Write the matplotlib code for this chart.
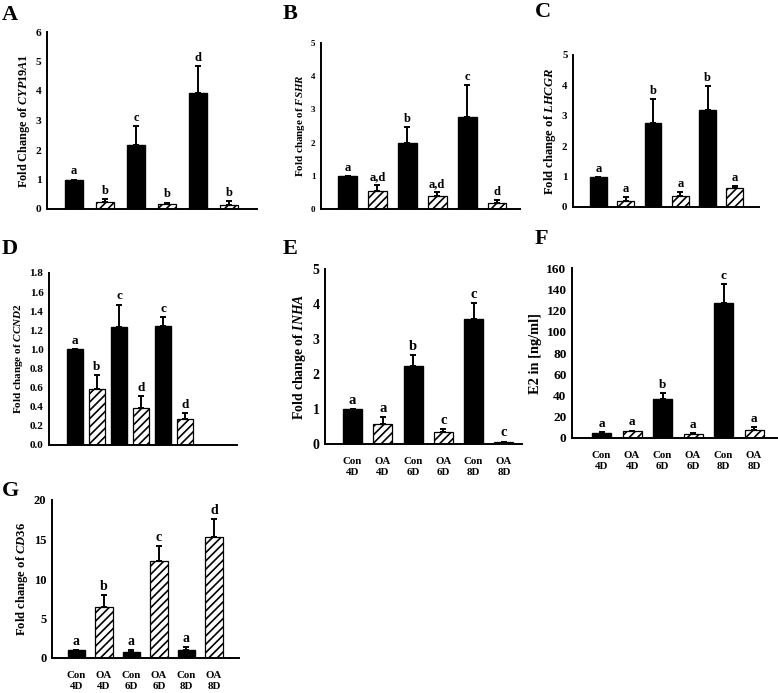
import numpy as np
import matplotlib.pyplot as plt

plt.rcParams['font.family'] = 'Liberation Serif'
plt.rcParams['font.weight'] = 'bold'
plt.rcParams['mathtext.fontset'] = 'custom'
plt.rcParams['mathtext.it'] = 'Liberation Serif:italic:bold'
plt.rcParams['mathtext.rm'] = 'Liberation Serif:bold'
plt.rcParams['hatch.linewidth'] = 1.2

# grupos (Con = controle, OA = tratado)
grupos = ['Con\n4D', 'OA\n4D', 'Con\n6D', 'OA\n6D', 'Con\n8D', 'OA\n8D']
tratado = [False, True, False, True, False, True]

# A - CYP19A1
cyp_media = [1.0, 0.25, 2.17, 0.17, 3.93, 0.15]
cyp_erro = [0.0, 0.10, 0.63, 0.05, 0.92, 0.12]
cyp_letras = ['a', 'b', 'c', 'b', 'd', 'b']

# B - FSHR
fshr_media = [1.0, 0.55, 2.0, 0.38, 2.77, 0.17]
fshr_erro = [0.0, 0.18, 0.47, 0.12, 0.97, 0.10]
fshr_letras = ['a', 'a,d', 'b', 'a,d', 'c', 'd']

# C - LHCGR
lhcgr_media = [1.0, 0.20, 2.77, 0.35, 3.20, 0.62]
lhcgr_erro = [0.0, 0.12, 0.78, 0.15, 0.77, 0.08]
lhcgr_letras = ['a', 'a', 'b', 'a', 'b', 'a']

# D - CCND2
ccnd_media = [1.0, 0.59, 1.23, 0.39, 1.25, 0.27]
ccnd_erro = [0.0, 0.14, 0.24, 0.12, 0.09, 0.06]
ccnd_letras = ['a', 'b', 'c', 'd', 'c', 'd']

# E - INHA
inha_media = [1.0, 0.57, 2.22, 0.35, 3.57, 0.05]
inha_erro = [0.0, 0.20, 0.33, 0.08, 0.45, 0.02]
inha_letras = ['a', 'a', 'b', 'c', 'c', 'c']

# F - E2
e2_media = [4.5, 6.5, 36.5, 4.0, 127.0, 7.5]
e2_erro = [1.5, 0.5, 6.0, 1.0, 18.0, 3.0]
e2_letras = ['a', 'a', 'b', 'a', 'c', 'a']

# G - CD36
cd36_media = [1.0, 6.5, 0.7, 12.3, 1.0, 15.3]
cd36_erro = [0.0, 1.5, 0.3, 1.9, 0.4, 2.3]
cd36_letras = ['a', 'b', 'a', 'c', 'a', 'd']

W, H = 778, 693
fig = plt.figure(figsize=(W / 100, H / 100), dpi=100)


def painel(letra, media, erro, letras, ylabel, ymax, passo, caixa, xlim,
           larg, fs_tick, fs_label, fs_letra, pos_letra, fmt='{:.0f}',
           rotulos=False, cinza_ultimo=False):
    esq, topo, dir_, base = caixa
    ax = fig.add_axes([esq / W, 1 - base / H, (dir_ - esq) / W, (base - topo) / H])
    x = np.arange(len(media))
    for i in x:
        if tratado[i]:
            ultimo = cinza_ultimo and i == len(media) - 1
            ax.bar(i, media[i], width=larg, color='#c8c8c8' if ultimo else 'white',
                   edgecolor='black', hatch=None if ultimo else '////',
                   linewidth=0.9)
        else:
            ax.bar(i, media[i], width=larg, color='black', edgecolor='black')
    erro = np.array(erro)
    ax.errorbar(x, media, yerr=[np.zeros_like(erro), erro], fmt='none',
                ecolor='black', elinewidth=1.4, capsize=2, capthick=1.4)
    for i in x:
        ax.annotate(letras[i], (i, media[i] + erro[i]), xytext=(0, 1.5),
                    textcoords='offset points', ha='center', va='bottom',
                    fontsize=fs_letra, fontweight='bold')
    ax.set_xlim(*xlim)
    ax.set_ylim(0, ymax)
    ticks = np.arange(0, ymax + passo / 2, passo)
    ax.set_yticks(ticks)
    ax.set_yticklabels([fmt.format(t) for t in ticks], fontsize=fs_tick,
                       fontweight='bold')
    ax.set_ylabel(ylabel, fontsize=fs_label, fontweight='bold', labelpad=3)
    ax.spines['top'].set_visible(False)
    ax.spines['right'].set_visible(False)
    ax.spines['left'].set_linewidth(1.4)
    ax.spines['bottom'].set_linewidth(1.4)
    ax.tick_params(axis='y', length=0, pad=4)
    ax.tick_params(axis='x', length=0)
    if rotulos:
        ax.set_xticks(x)
        ax.set_xticklabels(grupos, fontsize=7.8, fontweight='bold',
                           linespacing=1.3)
        ax.tick_params(axis='x', pad=9)
    else:
        ax.set_xticks([])
    fig.text(pos_letra[0] / W, 1 - pos_letra[1] / H, letra, fontsize=16,
             fontweight='bold', ha='left', va='baseline')
    return ax


painel('A', cyp_media, cyp_erro, cyp_letras, r'Fold Change of $\mathit{CYP19A1}$',
       6, 1, (47, 32, 257, 209), (-0.87, 5.9), 0.58, 8.2, 8.8, 9, (2, 20))
painel('B', fshr_media, fshr_erro, fshr_letras, r'Fold change of $\mathit{FSHR}$',
       5, 1, (321, 43, 520, 209), (-0.89, 5.77), 0.63, 6.5, 7.9, 9, (283, 19))
painel('C', lhcgr_media, lhcgr_erro, lhcgr_letras, r'Fold change of $\mathit{LHCGR}$',
       5, 1, (573, 55, 759, 207), (-0.93, 5.88), 0.62, 7.8, 9.1, 9, (535, 17))
painel('D', ccnd_media, ccnd_erro, ccnd_letras, r'Fold change of $\mathit{CCND2}$',
       1.8, 0.2, (49, 273, 237, 445), (-1.18, 7.36), 0.73, 8, 8, 9.5, (2, 254),
       fmt='{:.1f}')
painel('E', inha_media, inha_erro, inha_letras, r'Fold change of $\mathit{INHA}$',
       5, 1, (325, 269, 522, 444), (-0.91, 5.6), 0.63, 10, 9.9, 10.5, (283, 254),
       rotulos=True, cinza_ultimo=True)
painel('F', e2_media, e2_erro, e2_letras, 'E2 in [ng/ml]',
       160, 20, (572, 268, 777, 438), (-0.97, 5.75), 0.62, 9.6, 10.4, 9.5, (535, 244),
       rotulos=True)
painel('G', cd36_media, cd36_erro, cd36_letras, r'Fold change of $\mathit{CD36}$',
       20, 5, (52, 500, 239, 658), (-0.89, 5.91), 0.62, 9, 9.1, 10, (2, 496),
       rotulos=True)

plt.savefig('out.png', dpi=100)
